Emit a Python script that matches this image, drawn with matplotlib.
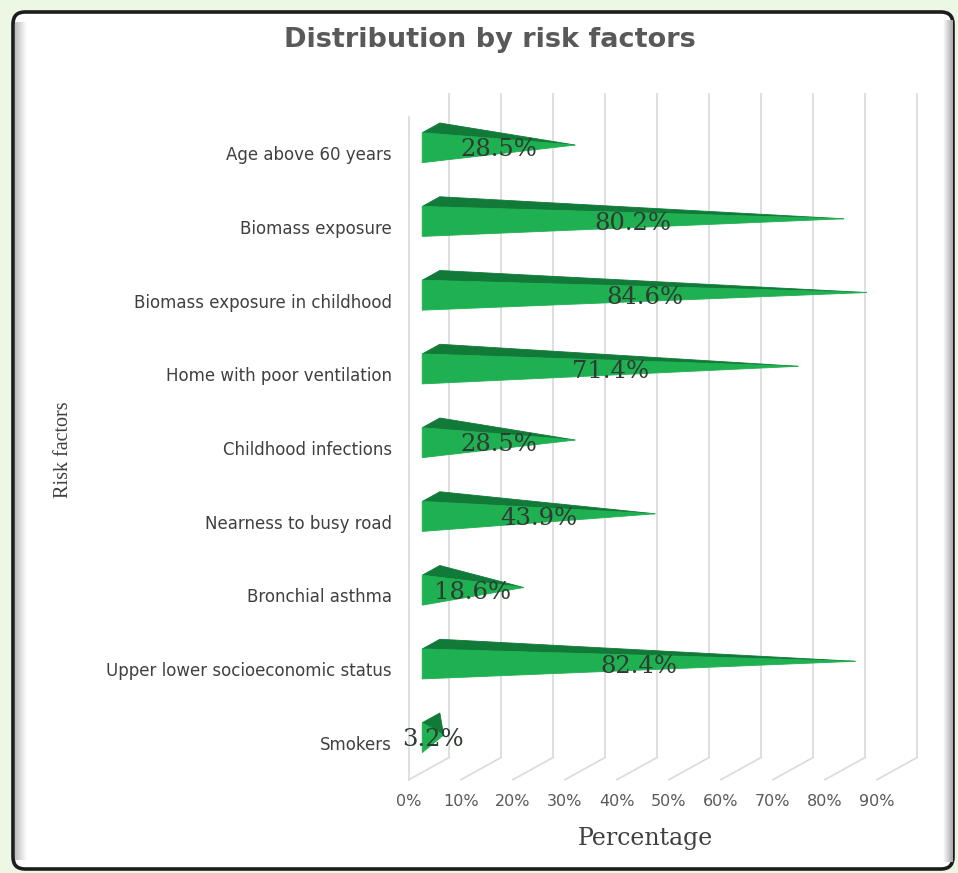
import matplotlib
matplotlib.use("Agg")
import matplotlib.pyplot as plt
import numpy as np
from matplotlib.patches import Polygon, FancyBboxPatch

# ---- data -------------------------------------------------------------
categories = [
    "Age above 60 years",
    "Biomass exposure",
    "Biomass exposure in childhood",
    "Home with poor ventilation",
    "Childhood infections",
    "Nearness to busy road",
    "Bronchial asthma",
    "Upper lower socioeconomic status",
    "Smokers",
]
values = [28.5, 80.2, 84.6, 71.4, 28.5, 43.9, 18.6, 82.4, 3.2]
ticks = [0, 10, 20, 30, 40, 50, 60, 70, 80, 90]
tick_labels = [f"{t}%" for t in ticks]

# ---- figure -----------------------------------------------------------
W, H, DPI = 958, 873, 100
fig = plt.figure(figsize=(W / DPI, H / DPI), dpi=DPI, facecolor="#ecf7e4")

# background frame drawn in pixel units
bg = fig.add_axes([0, 0, 1, 1], zorder=0)
bg.set_xlim(0, W)
bg.set_ylim(H, 0)
bg.axis("off")
bg.add_patch(FancyBboxPatch((13, 12), 940, 857,
                            boxstyle="round,pad=0,rounding_size=12",
                            facecolor="white", edgecolor="#1c1c1c", lw=2.6))
# soft inner shading on the left / right edges of the frame
left_shade = np.linspace(0.74, 1.0, 32).reshape(1, -1)
bg.imshow(np.dstack([left_shade] * 3), extent=(15, 27, 860, 22), aspect="auto",
          interpolation="bilinear", zorder=1)
right_shade = np.linspace(1.0, 0.66, 32).reshape(1, -1)
bg.imshow(np.dstack([right_shade] * 3), extent=(943, 953, 862, 20), aspect="auto",
          interpolation="bilinear", zorder=1)
bg.set_xlim(0, W)
bg.set_ylim(H, 0)

# ---- chart axes: x in percent, y in category units (front plane) -------
X_LO, X_HI = -4, 105
Y_TOP, Y_BOT = -1.0, 8.8
ax = fig.add_axes([388.2 / W, 1 - 804 / H, (955 - 388.2) / W, (804 - 81.25) / H],
                  zorder=2)
ax.set_xlim(X_LO, X_HI)
ax.set_ylim(Y_BOT, Y_TOP)
ax.axis("off")
ax.patch.set_alpha(0)

# depth projection: one unit of depth shifts right and up
DX = 7.7      # percent units
DY = 0.30     # category units
WALL_TOP = -0.84
SIDE_TOP = -0.52
FLOOR_FRONT = 8.47
GRID = "#dcdcdc"

# back wall gridlines and floor lines
for t in ticks:
    ax.plot([t + DX, t + DX], [WALL_TOP, FLOOR_FRONT - DY], color=GRID, lw=1.3,
            zorder=1, solid_capstyle="butt")
    ax.plot([t, t + DX], [FLOOR_FRONT, FLOOR_FRONT - DY], color=GRID, lw=1.3, zorder=1)
# side wall front edge
ax.plot([0, 0], [SIDE_TOP, FLOOR_FRONT], color=GRID, lw=1.3, zorder=1)

# pyramid bars
D0, D1, DM = 0.33, 0.77, 0.45
HH = 0.203
FRONT = "#1fb052"
TOP = "#127a39"
for i, v in enumerate(values):
    ft = (DX * D0, i - HH - DY * D0)
    fb = (DX * D0, i + HH - DY * D0)
    bt = (DX * D1, i - HH - DY * D1)
    ap = (v + DX * DM, i - DY * DM)
    ax.add_patch(Polygon([ft, bt, ap], closed=True, facecolor=TOP,
                         edgecolor=TOP, lw=0.6, zorder=3))
    ax.add_patch(Polygon([ft, ap, fb], closed=True, facecolor=FRONT,
                         edgecolor=FRONT, lw=0.6, zorder=4))
    ax.text((ft[0] + ap[0]) / 2, i - 0.07, f"{v}%", ha="center", va="center",
            fontsize=17.5, family="DejaVu Serif", color="#2f3a32", zorder=5)

# category labels
for i, c in enumerate(categories):
    ax.text(-3.27, i, c, ha="right", va="center", fontsize=12,
            family="DejaVu Sans", color="#404040")

# value axis tick labels
for t, lab in zip(ticks, tick_labels):
    ax.text(t, 8.77, lab, ha="center", va="center", fontsize=11.5,
            family="DejaVu Sans", color="#595959")

# titles
fig.text(490 / W, 1 - 40 / H, "Distribution by risk factors", ha="center",
         va="center", fontsize=19.5, fontweight="bold", family="DejaVu Sans",
         color="#595959")
fig.text(645 / W, 1 - 839 / H, "Percentage", ha="center", va="center",
         fontsize=17, family="DejaVu Serif", color="#404040")
fig.text(64 / W, 1 - 450 / H, "Risk factors", ha="center", va="center",
         rotation=90, fontsize=14.5, family="Liberation Serif", color="#404040")

fig.savefig("out.png", dpi=DPI, facecolor=fig.get_facecolor())
